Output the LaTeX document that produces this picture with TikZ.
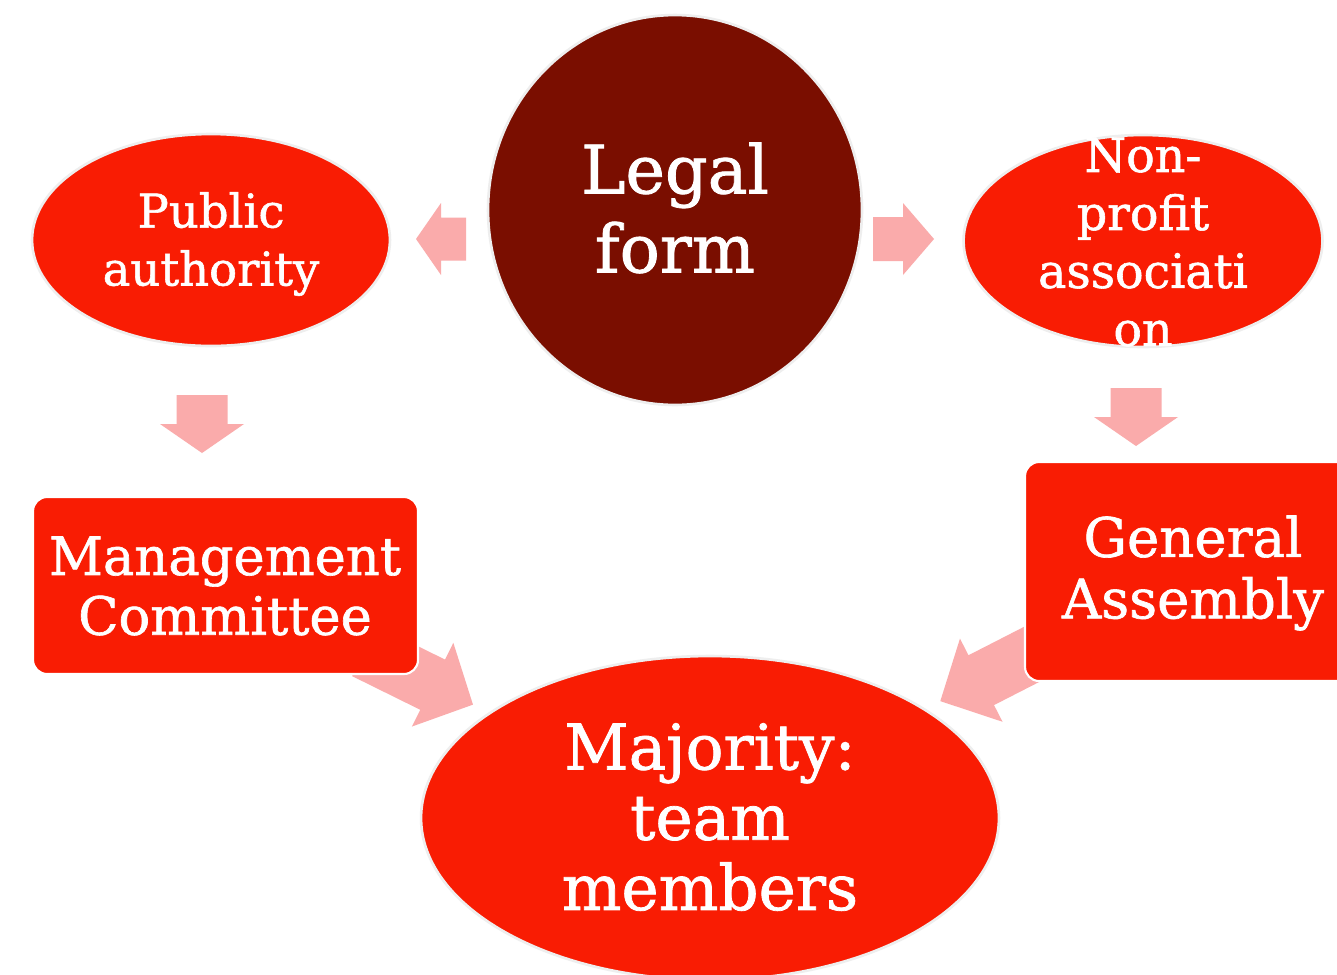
\documentclass[tikz,border=0pt]{standalone}
\usepackage{fontspec}
\setmainfont{DejaVu Serif}[FakeBold=1.2]
\usetikzlibrary{shapes.geometric}
\definecolor{maroon}{HTML}{7A0E00}
\definecolor{brightred}{HTML}{F91C03}
\definecolor{pinkarrow}{HTML}{FAABAB}
\definecolor{rimgray}{HTML}{EEEEEE}
\tikzset{
  oval/.style={ellipse, fill=brightred, draw=rimgray, line width=1.5pt, inner sep=0pt},
  boxnode/.style={rectangle, fill=brightred, draw=white, line width=1.2pt, rounded corners=0.28cm, inner sep=0pt},
  label/.style={text=white, align=center, inner sep=0pt},
  blockarrow/.style={fill=pinkarrow, draw=none}
}
% #1 tail point, #2 angle, #3 length, #4 head length, #5 body half width, #6 head half width
\newcommand{\fatarrow}[6]{%
  \begin{scope}[shift={#1}, rotate=#2]
    \fill[blockarrow] (0,-#5) -- ({#3-#4},-#5) -- ({#3-#4},-#6) -- (#3,0) -- ({#3-#4},#6) -- ({#3-#4},#5) -- (0,#5) -- cycle;
  \end{scope}}
\begin{document}
\begin{tikzpicture}[x=0.02cm, y=-0.02cm]
\useasboundingbox (0,0) rectangle (1337,974);
\fill[white] (0,0) rectangle (1337,974);

% diagonal arrows (under the boxes)
\fatarrow{(364.5,651)}{-26.3}{121}{45}{28}{46.7}
\fatarrow{(1048,646)}{207.1}{121}{46}{28}{46.7}

% straight arrows
\fatarrow{(466,239)}{180}{50}{25}{21.5}{36}
\fatarrow{(873,239)}{0}{61}{31}{22}{36}
\fatarrow{(202,395)}{-90}{58}{29}{25.5}{42}
\fatarrow{(1136,388)}{-90}{58}{29}{25.5}{42}

% shapes
\node[oval, fill=maroon, minimum width=7.48cm, minimum height=7.8cm] (legal) at (675,210) {};
\node[oval, minimum width=7.16cm, minimum height=4.24cm] (public) at (211,240) {};
\node[oval, minimum width=7.18cm, minimum height=4.24cm] (nonprofit) at (1143,241) {};
\node[boxnode, minimum width=7.7cm, minimum height=3.54cm] (mgmt) at (225.5,585.5) {};
\node[boxnode, minimum width=6.72cm, minimum height=4.38cm] (assembly) at (1193,571.5) {};
\node[oval, minimum width=11.56cm, minimum height=6.48cm] (majority) at (710,818) {};

% texts
\node[label, font=\fontsize{38}{45}\selectfont] (legaltxt) at (675,208) {Legal\\form};
\node[label, font=\fontsize{26.5}{33}\selectfont] (publictxt) at (211,244) {Public\\authority};
\node[label, font=\fontsize{27}{33}\selectfont] (nonprofittxt) at (1143,242) {Non-\\profit\\associati\\on};
\node[label, font=\fontsize{30}{34}\selectfont] (mgmttxt) at (225,586) {Management\\Committee};
\node[label, font=\fontsize{31}{35}\selectfont] (assemblytxt) at (1193,573) {General\\Assembly};
\node[label, font=\fontsize{35.8}{40}\selectfont] (majoritytxt) at (710,817) {Majority:\\team\\members};
\end{tikzpicture}
\end{document}
